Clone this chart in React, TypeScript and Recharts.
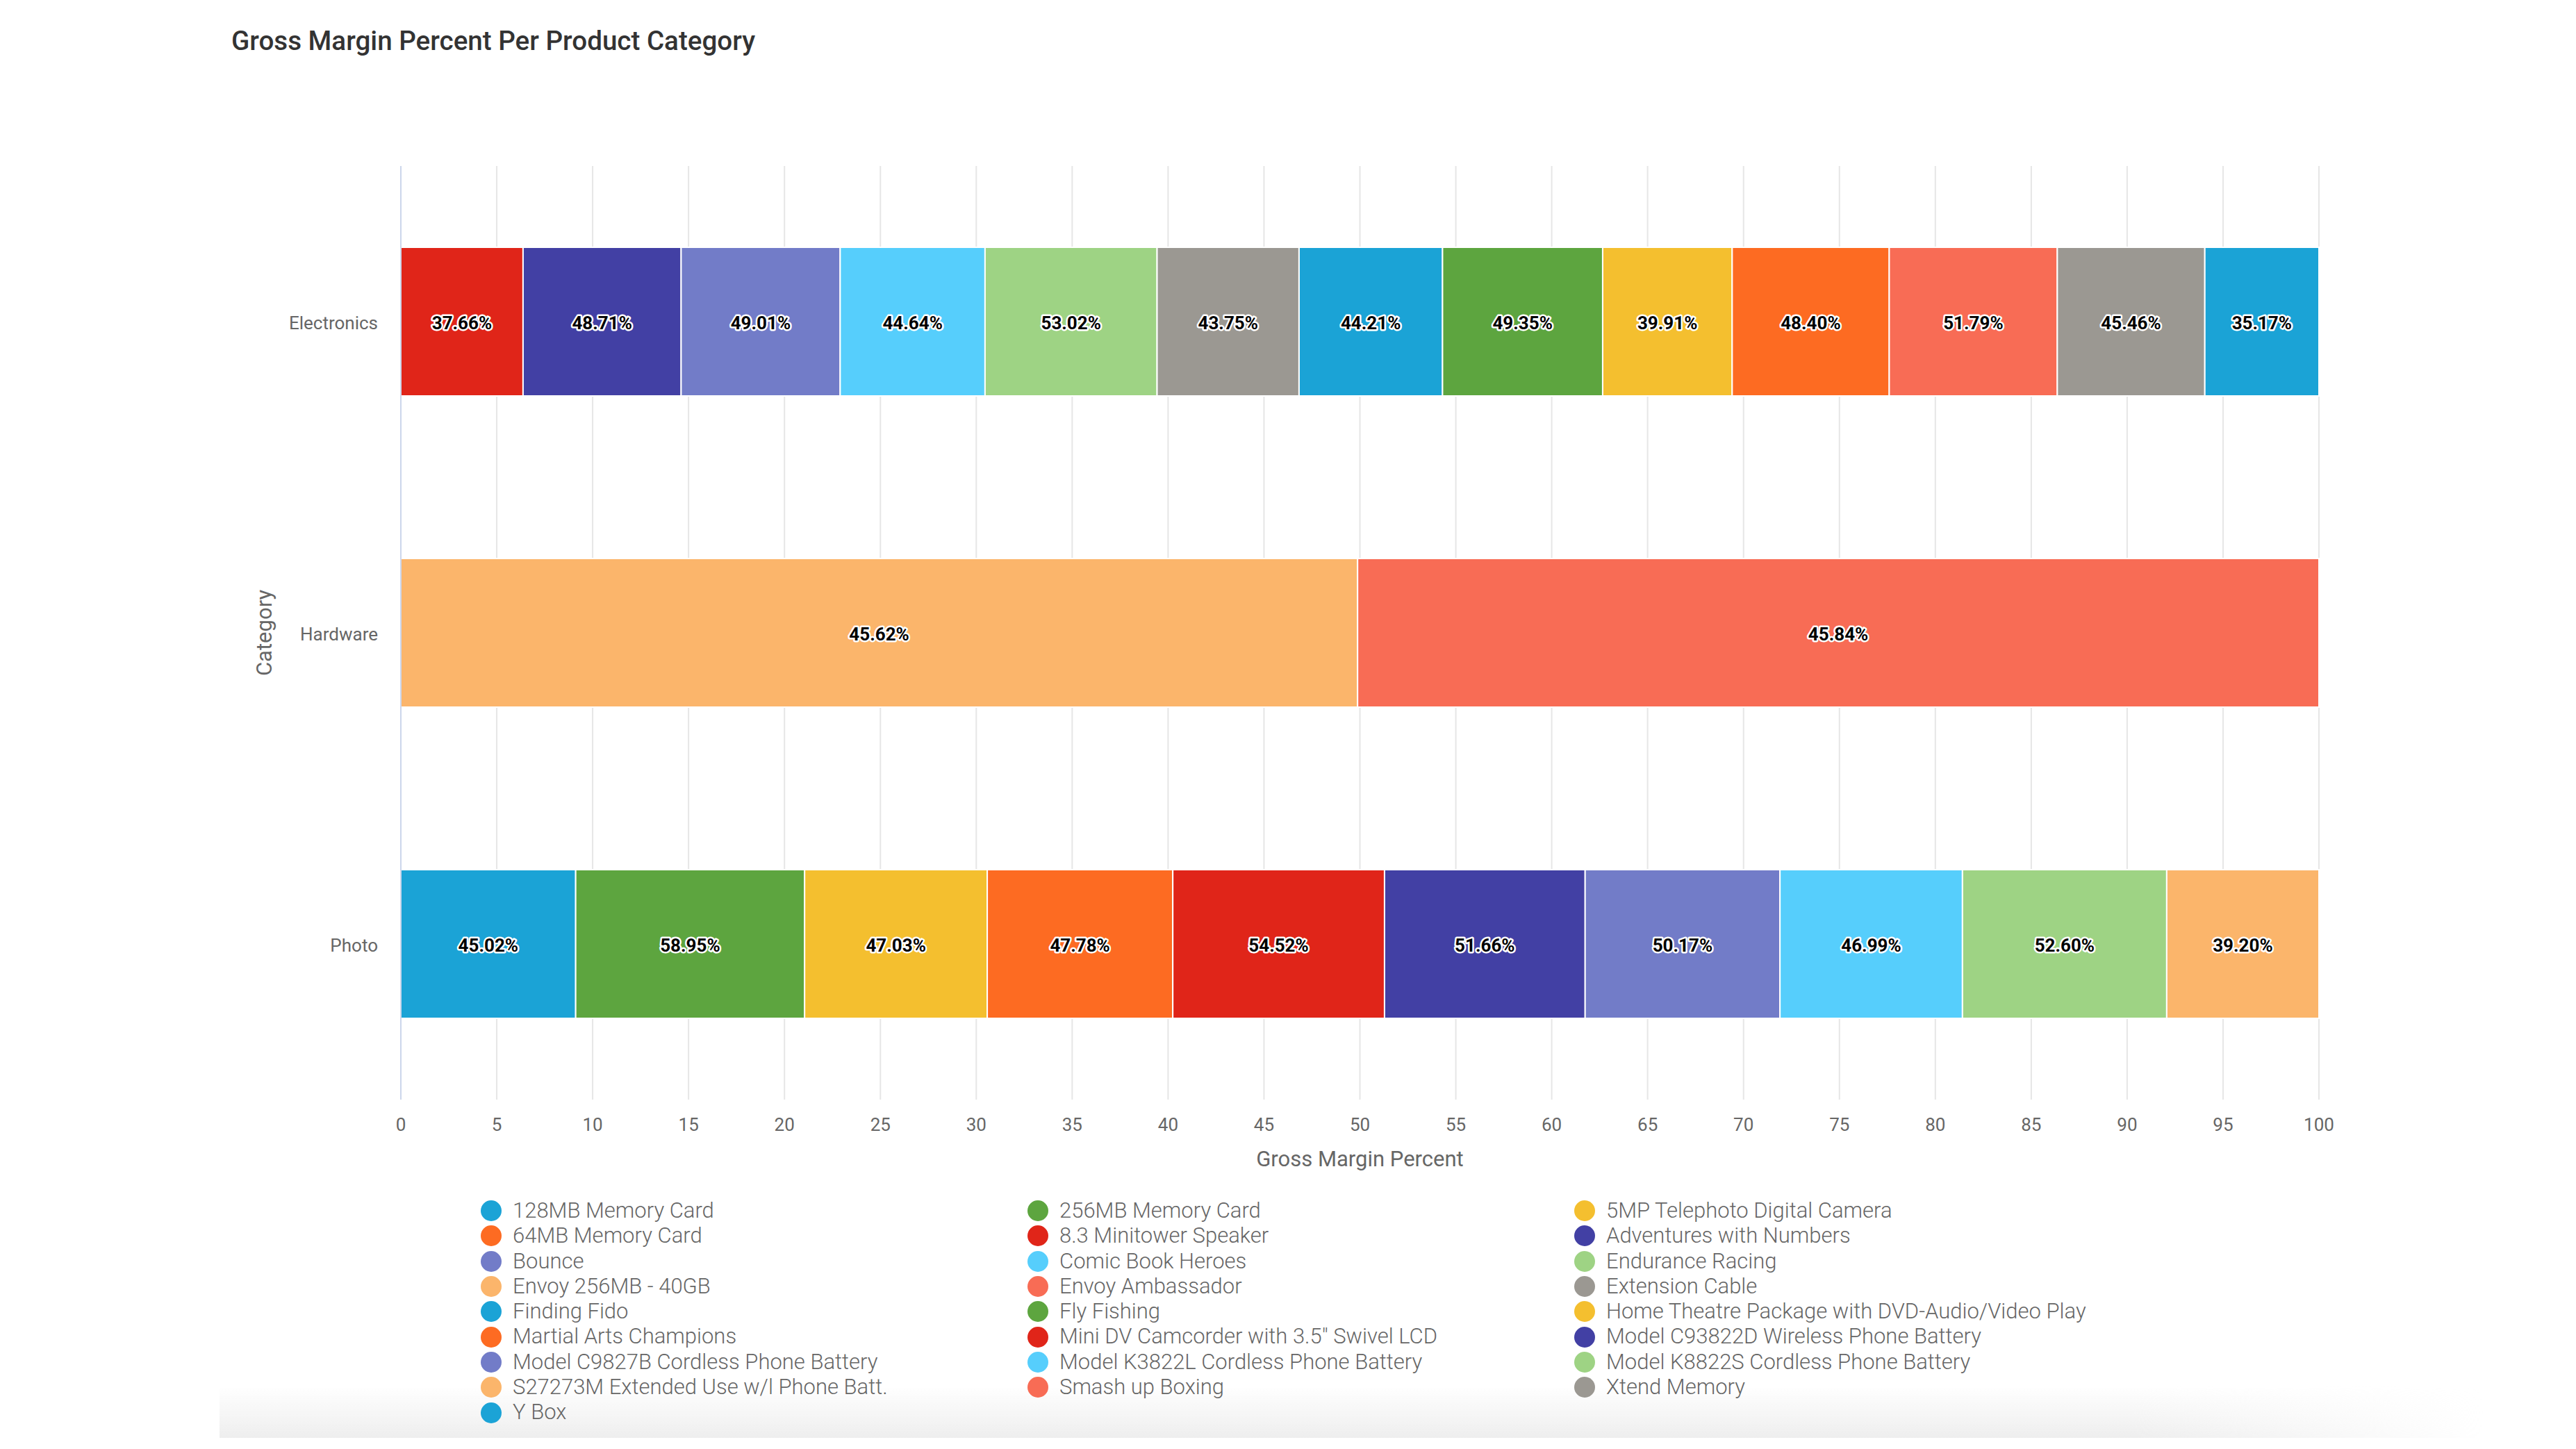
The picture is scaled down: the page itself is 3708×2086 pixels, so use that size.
import React from 'react';
import {
  BarChart, Bar, XAxis, YAxis, CartesianGrid, LabelList, Label
} from 'recharts';

const CATEGORIES = ['Electronics', 'Hardware', 'Photo'];

const PRODUCTS = [
  '128MB Memory Card', '256MB Memory Card', '5MP Telephoto Digital Camera',
  '64MB Memory Card', '8.3 Minitower Speaker', 'Adventures with Numbers',
  'Bounce', 'Comic Book Heroes', 'Endurance Racing',
  'Envoy 256MB - 40GB', 'Envoy Ambassador', 'Extension Cable',
  'Finding Fido', 'Fly Fishing', 'Home Theatre Package with DVD-Audio/Video Play',
  'Martial Arts Champions', 'Mini DV Camcorder with 3.5" Swivel LCD', 'Model C93822D Wireless Phone Battery',
  'Model C9827B Cordless Phone Battery', 'Model K3822L Cordless Phone Battery', 'Model K8822S Cordless Phone Battery',
  'S27273M Extended Use w/l Phone Batt.', 'Smash up Boxing', 'Xtend Memory',
  'Y Box',
];

// which category each product belongs to
const PRODUCT_CATEGORY = [
  'Photo', 'Photo', 'Photo',
  'Photo', 'Electronics', 'Electronics',
  'Electronics', 'Electronics', 'Electronics',
  'Hardware', 'Hardware', 'Electronics',
  'Electronics', 'Electronics', 'Electronics',
  'Electronics', 'Photo', 'Photo',
  'Photo', 'Photo', 'Photo',
  'Photo', 'Electronics', 'Electronics',
  'Electronics',
];

// gross margin percent per product
const GROSS_MARGIN = [
  45.02, 58.95, 47.03,
  47.78, 37.66, 48.71,
  49.01, 44.64, 53.02,
  45.62, 45.84, 43.75,
  44.21, 49.35, 39.91,
  48.40, 54.52, 51.66,
  50.17, 46.99, 52.60,
  39.20, 51.79, 45.46,
  35.17,
];

const COLORS = [
  '#1ba3d6', '#5da53f', '#f4bf2f', '#fd6b22', '#e02519', '#4240a4',
  '#727cc8', '#56cefc', '#9ed384', '#fbb56b', '#f86c55', '#9b9892',
  '#1ba3d6', '#5da53f', '#f4bf2f', '#fd6b22', '#e02519', '#4240a4',
  '#727cc8', '#56cefc', '#9ed384', '#fbb56b', '#f86c55', '#9b9892',
  '#1ba3d6',
];

const TICKS = [0, 5, 10, 15, 20, 25, 30, 35, 40, 45, 50, 55, 60, 65, 70, 75, 80, 85, 90, 95, 100];

const FONT = 'Roboto, "Noto Sans", sans-serif';

const rows = CATEGORIES.map((cat) => {
  const row: Record<string, any> = { category: cat };
  PRODUCTS.forEach((_, i) => {
    if (PRODUCT_CATEGORY[i] === cat) row['p' + i] = GROSS_MARGIN[i];
  });
  return row;
});

const renderLabel = (props: any) => {
  const { value } = props;
  const vb = props.viewBox && props.viewBox.width !== undefined ? props.viewBox : props;
  const { x, y, width, height } = vb;
  if (value == null || !width) return null;
  return (
    <text
      x={x + width / 2}
      y={y + height / 2 + 2}
      textAnchor="middle"
      dominantBaseline="central"
      fontFamily={FONT}
      fontWeight={700}
      fontSize={26}
      fill="#000"
      stroke="#fff"
      strokeWidth={5}
      strokeLinejoin="round"
      paintOrder="stroke"
    >
      {Number(value).toFixed(2)}%
    </text>
  );
};

export default function App() {
  return (
    <div style={{ position: 'relative', width: 3708, height: 2086, background: '#fff', fontFamily: FONT, overflow: 'hidden' }}>
      <style>{'body{margin:0}'}</style>

      {/* card shadow at the bottom */}
      <div
        style={{
          position: 'absolute', left: 316, top: 1995, width: 3360, height: 75,
          background: 'linear-gradient(to bottom, rgba(238,238,238,0) 0%, rgba(238,238,238,1) 100%)',
          WebkitMaskImage: 'linear-gradient(to right, #000 82%, transparent 97%)',
          maskImage: 'linear-gradient(to right, #000 82%, transparent 97%)',
        }}
      />

      <div style={{ position: 'absolute', left: 333, top: 40, fontSize: 38.6, lineHeight: 1, fontWeight: 500, color: '#333' }}>
        Gross Margin Percent Per Product Category
      </div>

      <div style={{ position: 'absolute', left: 0, top: 0 }}>
        <BarChart
          width={3708}
          height={1700}
          data={rows}
          layout="vertical"
          stackOffset="expand"
          margin={{ top: 239, right: 370, left: 377, bottom: 17 }}
        >
          <CartesianGrid horizontal={false} stroke="#e6e6e6" strokeWidth={2} />
          <XAxis
            type="number"
            domain={[0, 1]}
            ticks={TICKS.map((t) => t / 100)}
            tickFormatter={(v: number) => String(Math.round(v * 100))}
            axisLine={false}
            tickLine={false}
            tickSize={6}
            tickMargin={21}
            height={100}
            tick={{ fill: '#666', fontSize: 26, fontFamily: FONT }}
            interval={0}
          >
            <Label
              value="Gross Margin Percent"
              position="insideBottom"
              offset={4}
              style={{ fill: '#666', fontSize: 31, fontWeight: 400, fontFamily: FONT }}
            />
          </XAxis>
          <YAxis
            type="category"
            dataKey="category"
            width={200}
            axisLine={{ stroke: '#ccd6eb', strokeWidth: 2 }}
            tickLine={false}
            tickSize={6}
            tickMargin={27}
            tick={{ fill: '#666', fontSize: 26, fontFamily: FONT, dy: 2 }}
          >
            <Label
              value="Category"
              angle={-90}
              position="insideLeft"
              offset={3}
              style={{ textAnchor: 'middle', fill: '#666', fontSize: 31, fontWeight: 400, fontFamily: FONT }}
            />
          </YAxis>
          {PRODUCTS.map((p, i) => (
            <Bar
              key={p}
              dataKey={'p' + i}
              name={p}
              stackId="a"
              fill={COLORS[i]}
              stroke="#fff"
              strokeWidth={2}
              barSize={214}
              isAnimationActive={false}
            >
              <LabelList dataKey={'p' + i} content={renderLabel} />
            </Bar>
          ))}
        </BarChart>
      </div>

      {/* legend */}
      <div
        style={{
          position: 'absolute', left: 692, top: 1725,
          display: 'grid', gridTemplateColumns: '787px 787px 787px',
        }}
      >
        {PRODUCTS.map((p, i) => (
          <div key={p} style={{ display: 'flex', alignItems: 'center', height: 36.3, whiteSpace: 'nowrap' }}>
            <span style={{ width: 30, height: 30, borderRadius: '50%', background: COLORS[i], display: 'inline-block', flex: 'none' }} />
            <span style={{ marginLeft: 16, fontSize: 31, fontWeight: 300, color: '#666', lineHeight: '36.3px' }}>{p}</span>
          </div>
        ))}
      </div>
    </div>
  );
}
